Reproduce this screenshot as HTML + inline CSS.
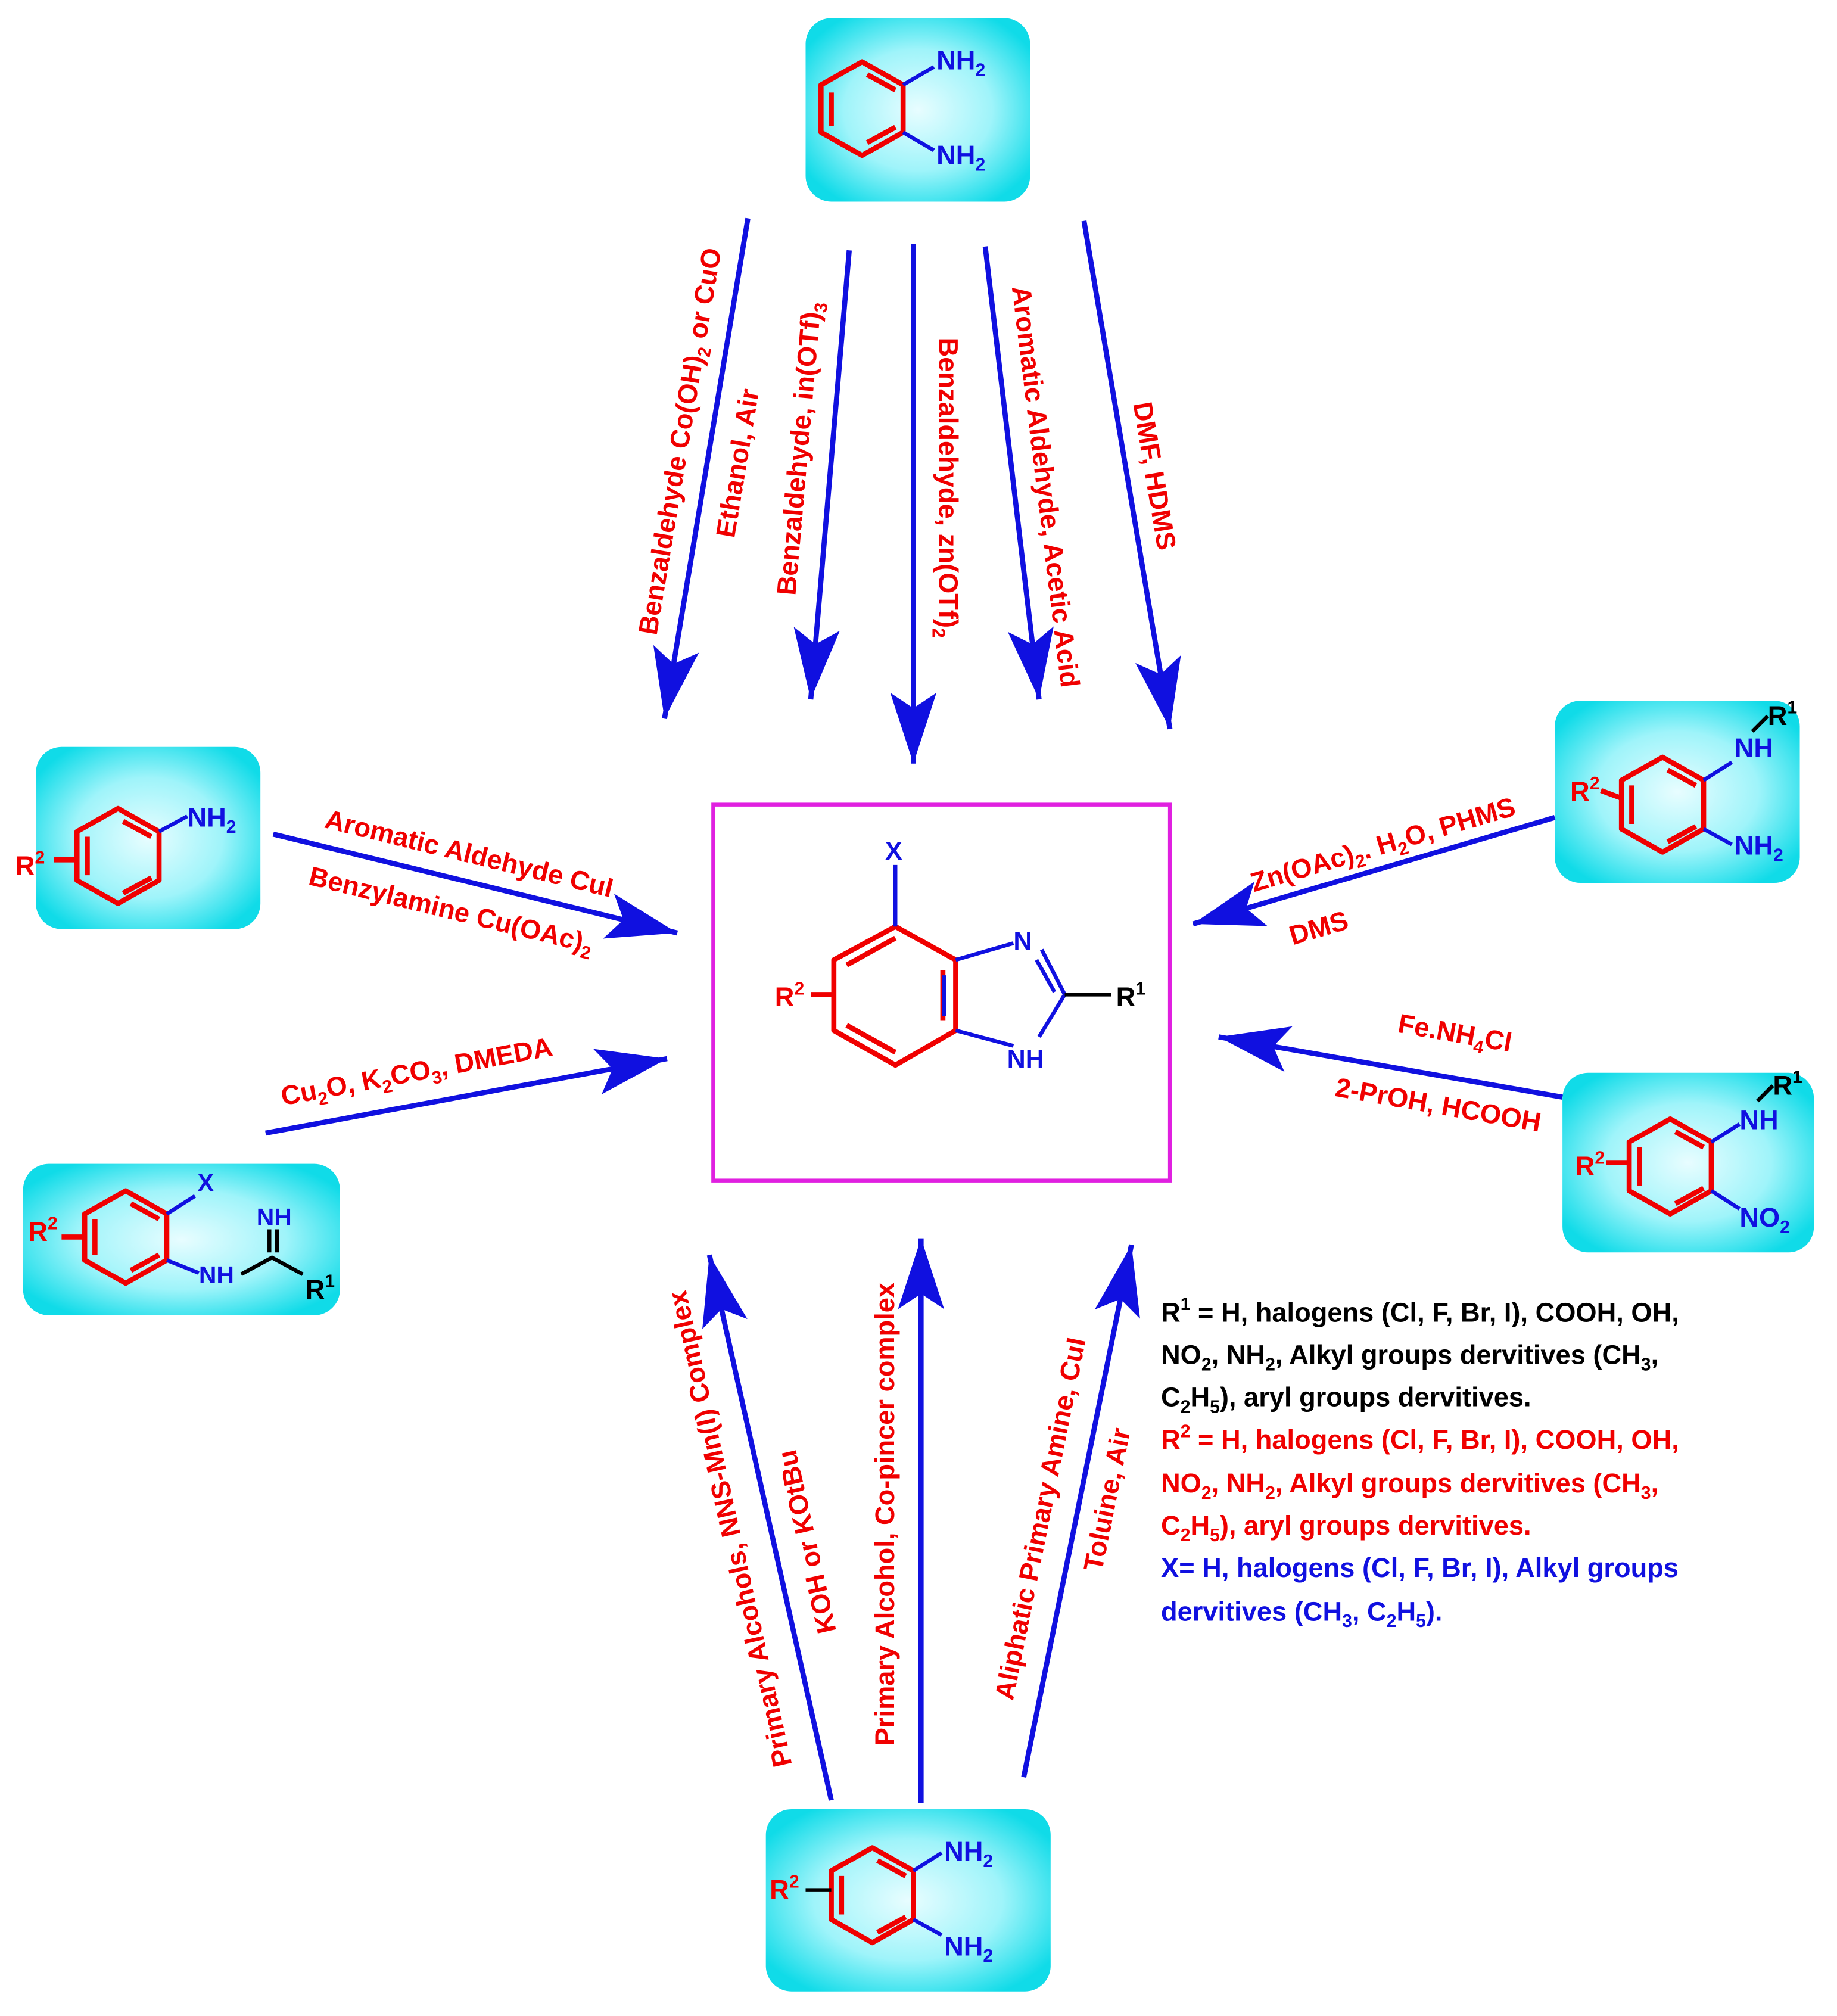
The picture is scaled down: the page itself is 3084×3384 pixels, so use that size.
<!DOCTYPE html>
<html><head><meta charset="utf-8"><style>
html,body{margin:0;padding:0;background:#fff}
svg{display:block}
text{font-family:"Liberation Sans",Arial,sans-serif;font-weight:bold}
.r{fill:#f00000;font-size:21px}
.b{fill:#1010e0}
.k{fill:#000}
.lg{font-size:21px}
.ring{fill:none;stroke:#f00000;stroke-width:4;stroke-linejoin:round}
.bl{stroke:#1010e0;stroke-width:3;fill:none}
.bk{stroke:#000;stroke-width:3;fill:none}
.ar{stroke:#1010e0;stroke-width:4;fill:none}
</style></head><body>
<svg width="3084" height="3384" viewBox="0 0 1432 1571" xmlns="http://www.w3.org/2000/svg">
<defs>
<radialGradient id="cy" cx="50%" cy="50%" r="60%">
<stop offset="0" stop-color="#e8fdff"/><stop offset="0.55" stop-color="#9ff4fa"/><stop offset="1" stop-color="#10dbe8"/>
</radialGradient>
<marker id="ah" markerUnits="userSpaceOnUse" markerWidth="60" markerHeight="40" viewBox="-46 -16 50 32" refX="0" refY="0" orient="auto">
<path d="M0,0 L-46,-15 L-36,0 L-46,15 Z" fill="#1010e0"/>
</marker>
</defs>

<g fill="url(#cy)">
<rect x="628" y="14" width="175" height="143" rx="20"/>
<rect x="28" y="582" width="175" height="142" rx="20"/>
<rect x="18" y="907" width="247" height="118" rx="20"/>
<rect x="1212" y="546" width="191" height="142" rx="20"/>
<rect x="1218" y="836" width="196" height="140" rx="20"/>
<rect x="597" y="1410" width="222" height="142" rx="20"/>
</g>
<rect x="556" y="627" width="356" height="293" fill="none" stroke="#e020e0" stroke-width="3"/>

<g class="ar" marker-end="url(#ah)">
<line x1="583" y1="170" x2="518" y2="560"/>
<line x1="662" y1="195" x2="632" y2="545"/>
<line x1="712" y1="190" x2="712" y2="595"/>
<line x1="768" y1="192" x2="810" y2="545"/>
<line x1="845" y1="172" x2="912" y2="568"/>
<line x1="213" y1="650" x2="528" y2="727"/>
<line x1="207" y1="883" x2="520" y2="825"/>
<line x1="1212" y1="637" x2="930" y2="720"/>
<line x1="1218" y1="855" x2="950" y2="808"/>
<line x1="648" y1="1403" x2="553" y2="978"/>
<line x1="718" y1="1405" x2="718" y2="965"/>
<line x1="798" y1="1385" x2="882" y2="970"/>
</g>

<g class="r" text-anchor="middle">
<text transform="translate(537,345) rotate(-80.5)">Benzaldehyde Co(OH)<tspan font-size="14" dy="5">2</tspan><tspan dy="-5"> or CuO</tspan></text>
<text transform="translate(582,362) rotate(-80.5)">Ethanol, Air</text>
<text transform="translate(630,350) rotate(-85)">Benzaldehyde, in(OTf)<tspan font-size="14" dy="5">3</tspan></text>
<text transform="translate(732,380) rotate(90)">Benzaldehyde, zn(OTf)<tspan font-size="14" dy="5">2</tspan></text>
<text transform="translate(808,380) rotate(83)">Aromatic Aldehyde, Acetic Acid</text>
<text transform="translate(893,372) rotate(80.4)">DMF, HDMS</text>
<text transform="translate(364,672) rotate(13.7)">Aromatic Aldehyde CuI</text>
<text transform="translate(350,716) rotate(13.7)">Benzylamine Cu(OAc)<tspan font-size="14" dy="5">2</tspan></text>
<text transform="translate(326,842) rotate(-10.5)">Cu<tspan font-size="14" dy="5">2</tspan><tspan dy="-5">O, K</tspan><tspan font-size="14" dy="5">2</tspan><tspan dy="-5">CO</tspan><tspan font-size="14" dy="5">3</tspan><tspan dy="-5">, DMEDA</tspan></text>
<text transform="translate(1080,665) rotate(-16.4)">Zn(OAc)<tspan font-size="14" dy="5">2</tspan><tspan dy="-5">. H</tspan><tspan font-size="14" dy="5">2</tspan><tspan dy="-5">O, PHMS</tspan></text>
<text transform="translate(1030,730) rotate(-16.4)">DMS</text>
<text transform="translate(1133,812) rotate(9.9)">Fe.NH<tspan font-size="14" dy="5">4</tspan><tspan dy="-5">Cl</tspan></text>
<text transform="translate(1120,868) rotate(9.9)">2-PrOH, HCOOH</text>
<text transform="translate(576,1190) rotate(-102.6)">Primary Alcohols, NNS-Mn(I) Complex</text>
<text transform="translate(636,1200) rotate(-102.6)">KOH or KOtBu</text>
<text transform="translate(697,1180) rotate(-90)">Primary Alcohol, Co-pincer complex</text>
<text transform="translate(818,1185) rotate(-78.6)">Aliphatic Primary Amine, CuI</text>
<text transform="translate(870,1170) rotate(-78.6)">Toluine, Air</text>
</g>

<g>
<polygon class="ring" points="672,48 704,66 704,103 672,121 640,103 640,66"/>
<path class="ring" d="M648,72 L648,98 M676,58 L698,70 M676,111 L698,99"/>
<path class="bl" d="M704,66 L728,52 M704,103 L728,117"/>
<text class="b" x="730" y="54" font-size="21">NH<tspan font-size="14" dy="5">2</tspan></text>
<text class="b" x="730" y="128" font-size="21">NH<tspan font-size="14" dy="5">2</tspan></text>
</g>

<g>
<polygon class="ring" points="92,630 124,648 124,686 92,704 60,686 60,648"/>
<path class="ring" d="M68,652 L68,682 M96,640 L118,652 M96,696 L118,684"/>
<path class="bl" d="M124,648 L146,636"/>
<text class="b" x="146" y="644" font-size="21">NH<tspan font-size="14" dy="5">2</tspan></text>
<path class="ring" d="M42,670 L60,670"/>
<text class="r" x="12" y="682">R<tspan font-size="14" dy="-9">2</tspan></text>
</g>

<g>
<polygon class="ring" points="98,928 130,946 130,982 98,1000 66,982 66,946"/>
<path class="ring" d="M74,950 L74,978 M102,938 L124,950 M102,990 L124,978"/>
<path class="bl" d="M130,946 L152,932 M130,982 L155,992"/>
<text class="b" x="154" y="928" font-size="19">X</text>
<text class="b" x="155" y="1000" font-size="19">NH</text>
<path class="bk" d="M188,993 L212,980 L236,993 M210,976 L210,958 M216,976 L216,958"/>
<text class="b" x="200" y="955" font-size="19">NH</text>
<text class="k" x="238" y="1012" font-size="21">R<tspan font-size="14" dy="-9">1</tspan></text>
<path class="ring" d="M48,964 L66,964"/>
<text class="r" x="22" y="967">R<tspan font-size="14" dy="-9">2</tspan></text>
</g>

<g>
<polygon class="ring" points="1296,590 1328,608 1328,646 1296,664 1264,646 1264,608"/>
<path class="ring" d="M1272,612 L1272,642 M1300,600 L1322,612 M1300,656 L1322,644"/>
<path class="bl" d="M1328,608 L1350,594 M1328,646 L1350,658"/>
<text class="b" x="1352" y="590" font-size="21">NH</text>
<path class="bk" d="M1366,570 L1378,558"/>
<text class="k" x="1378" y="565" font-size="21">R<tspan font-size="14" dy="-9">1</tspan></text>
<text class="b" x="1352" y="666" font-size="21">NH<tspan font-size="14" dy="5">2</tspan></text>
<path class="ring" d="M1248,616 L1264,622"/>
<text class="r" x="1224" y="624">R<tspan font-size="14" dy="-9">2</tspan></text>
</g>

<g>
<polygon class="ring" points="1302,872 1334,890 1334,928 1302,946 1270,928 1270,890"/>
<path class="ring" d="M1278,894 L1278,924 M1306,882 L1328,894 M1306,938 L1328,926"/>
<path class="bl" d="M1334,890 L1356,876 M1334,928 L1356,942"/>
<text class="b" x="1356" y="880" font-size="21">NH</text>
<path class="bk" d="M1370,858 L1382,846"/>
<text class="k" x="1382" y="853" font-size="21">R<tspan font-size="14" dy="-9">1</tspan></text>
<text class="b" x="1356" y="956" font-size="21">NO<tspan font-size="14" dy="5">2</tspan></text>
<path class="ring" d="M1252,906 L1270,906"/>
<text class="r" x="1228" y="916">R<tspan font-size="14" dy="-9">2</tspan></text>
</g>

<g>
<polygon class="ring" points="680,1440 712,1458 712,1496 680,1514 648,1496 648,1458"/>
<path class="ring" d="M656,1462 L656,1492 M684,1450 L706,1462 M684,1506 L706,1494"/>
<path class="bl" d="M712,1458 L734,1444 M712,1496 L734,1508"/>
<text class="b" x="736" y="1450" font-size="21">NH<tspan font-size="14" dy="5">2</tspan></text>
<text class="b" x="736" y="1524" font-size="21">NH<tspan font-size="14" dy="5">2</tspan></text>
<path class="bk" d="M628,1473 L648,1473"/>
<text class="r" x="600" y="1480">R<tspan font-size="14" dy="-9">2</tspan></text>
</g>

<g>
<polygon class="ring" points="698,722 745,748 745,803 698,830 650,803 650,748"/>
<path class="ring" d="M660,752 L698,731 M735,756 L735,795 M660,799 L698,820"/>
<path class="bl" d="M698,722 L698,674 M745,748 L790,735 M812,740 L830,775 M830,775 L810,808 M790,815 L745,803 M736,760 L736,792"/>
<path class="bl" d="M808,748 L822,773"/>
<text class="b" x="690" y="670" font-size="20">X</text>
<text class="b" x="790" y="740" font-size="20">N</text>
<text class="b" x="785" y="832" font-size="20">NH</text>
<path class="bk" d="M830,775 L866,775"/>
<text class="k" x="870" y="784" font-size="21">R<tspan font-size="14" dy="-9">1</tspan></text>
<path class="ring" d="M632,775 L650,775"/>
<text class="r" x="604" y="784">R<tspan font-size="14" dy="-9">2</tspan></text>
</g>

<g class="lg">
<text class="k" x="905" y="1030">R<tspan font-size="14" dy="-9">1</tspan><tspan dy="9"> = H, halogens (Cl, F, Br, I), COOH, OH,</tspan></text>
<text class="k" x="905" y="1063">NO<tspan font-size="14" dy="5">2</tspan><tspan dy="-5">, NH</tspan><tspan font-size="14" dy="5">2</tspan><tspan dy="-5">, Alkyl groups dervitives (CH</tspan><tspan font-size="14" dy="5">3</tspan><tspan dy="-5">,</tspan></text>
<text class="k" x="905" y="1096">C<tspan font-size="14" dy="5">2</tspan><tspan dy="-5">H</tspan><tspan font-size="14" dy="5">5</tspan><tspan dy="-5">), aryl groups dervitives.</tspan></text>
<text class="r" x="905" y="1129">R<tspan font-size="14" dy="-9">2</tspan><tspan dy="9"> = H, halogens (Cl, F, Br, I), COOH, OH,</tspan></text>
<text class="r" x="905" y="1163">NO<tspan font-size="14" dy="5">2</tspan><tspan dy="-5">, NH</tspan><tspan font-size="14" dy="5">2</tspan><tspan dy="-5">, Alkyl groups dervitives (CH</tspan><tspan font-size="14" dy="5">3</tspan><tspan dy="-5">,</tspan></text>
<text class="r" x="905" y="1196">C<tspan font-size="14" dy="5">2</tspan><tspan dy="-5">H</tspan><tspan font-size="14" dy="5">5</tspan><tspan dy="-5">), aryl groups dervitives.</tspan></text>
<text class="b" x="905" y="1229">X= H, halogens (Cl, F, Br, I), Alkyl groups</text>
<text class="b" x="905" y="1263">dervitives (CH<tspan font-size="14" dy="5">3</tspan><tspan dy="-5">, C</tspan><tspan font-size="14" dy="5">2</tspan><tspan dy="-5">H</tspan><tspan font-size="14" dy="5">5</tspan><tspan dy="-5">).</tspan></text>
</g>
</svg>
</body></html>
